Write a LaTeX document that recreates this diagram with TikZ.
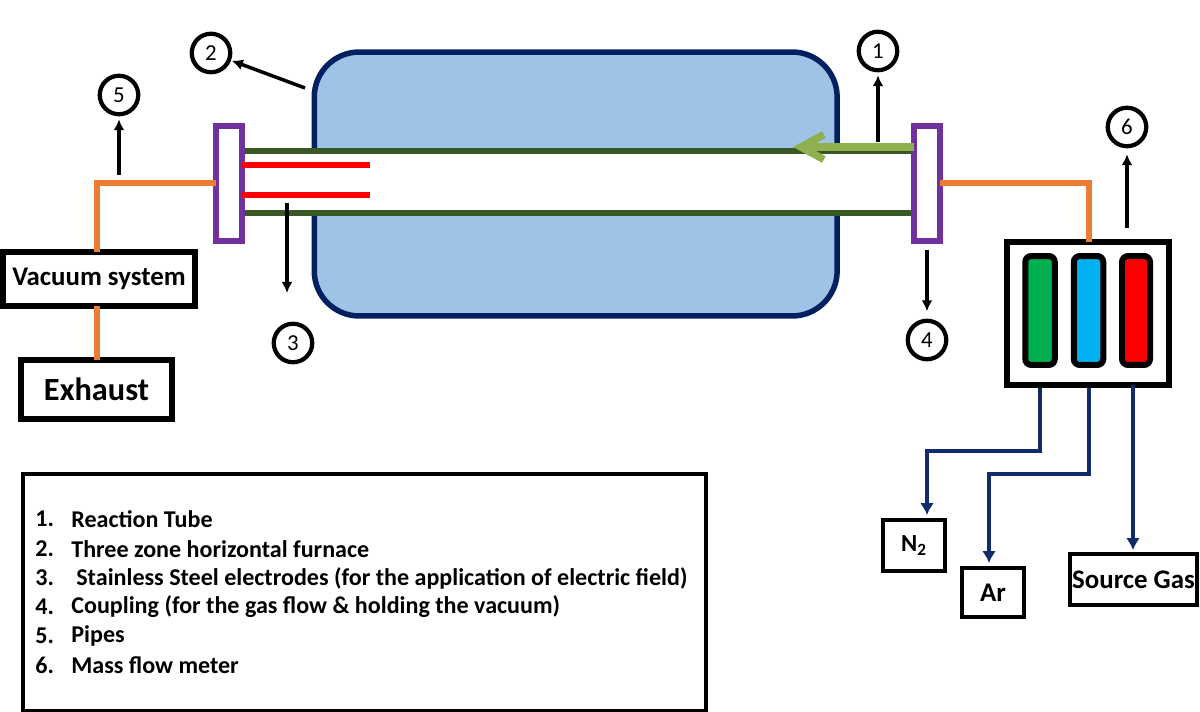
\documentclass[tikz,border=0pt]{standalone}
\usepackage{fontspec}
\setmainfont{Carlito}
\usetikzlibrary{arrows.meta}

\definecolor{furnblue}{HTML}{9DC3E6}
\definecolor{furnnavy}{HTML}{002060}
\definecolor{wallgreen}{HTML}{385723}
\definecolor{flowgreen}{HTML}{8FB04F}
\definecolor{couppurple}{HTML}{7030A0}
\definecolor{pipeorange}{HTML}{ED7D31}
\definecolor{linenavy}{HTML}{0F2B6E}

% one unit is one pixel of the picture, so .2mm is a pixel too
\tikzset{
  blackbox/.style={draw=black,line width=1.2mm,fill=white,inner sep=0pt,outer sep=0pt},
  gasbox/.style={draw=black,line width=.85mm,fill=white,inner sep=0pt,outer sep=0pt},
  coupling/.style={draw=couppurple,line width=1.2mm,fill=white,inner sep=0pt,outer sep=0pt,
    minimum width=5.2mm,minimum height=23.2mm},
  numcircle/.style={circle,draw=black,line width=.85mm,fill=white,inner sep=0pt,outer sep=0pt,
    minimum size=7.7mm,font=\fontsize{13}{15}\selectfont},
  callout/.style={-{Latex[length=2.2mm,width=2.2mm]},line width=.7mm,black},
  pipe/.style={draw=pipeorange,line width=1.1mm},
  gasline/.style={-{Latex[length=2.4mm,width=2.8mm]},draw=linenavy,line width=.9mm},
  meterbar/.style={draw=black,line width=1.2mm,rounded corners=1.2mm,inner sep=0pt,outer sep=0pt,
    minimum width=5.9mm,minimum height=21.8mm},
  legendline/.style={anchor=west,inner sep=0pt,font=\fontsize{13.7}{15}\bfseries},
}

\begin{document}
\begin{tikzpicture}[x=.02cm,y=-.02cm]
  \useasboundingbox (0,0) rectangle (1200,712);

  % furnace and tube
  \node[draw=furnnavy,fill=furnblue,line width=1.1mm,rounded corners=9mm,inner sep=0pt,outer sep=0pt,
    minimum width=104.6mm,minimum height=52.8mm] (furnace) at (575.7,184) {};
  \node[fill=white,inner sep=0pt,outer sep=0pt,minimum width=134mm,minimum height=12.4mm] (tube) at (578,182) {};
  \draw[wallgreen,line width=1.3mm] (tube.north west) -- (tube.north east);
  \draw[wallgreen,line width=1.3mm] (tube.south west) -- (tube.south east);

  \node[coupling] (leftcoup) at (229,183.5) {};
  \node[coupling] (rightcoup) at (927,183.5) {};

  % electrodes
  \coordinate (elec1) at (370,165);
  \coordinate (elec2) at (370,195);
  \draw[red,line width=1.1mm] (leftcoup.east |- elec1) -- (elec1);
  \draw[red,line width=1.1mm] (leftcoup.east |- elec2) -- (elec2);

  % gas flow in the tube
  \coordinate (flowtip) at (793,147);
  \draw[-{Straight Barb[length=4.6mm,width=5mm]},flowgreen,line width=1.5mm]
    (rightcoup.west |- flowtip) -- (flowtip);

  % boxes on the left
  \node[blackbox,minimum width=38.4mm,minimum height=10.8mm,font=\fontsize{15.3}{17}\bfseries] (vacuum) at (99,279) {Vacuum system};
  \node[blackbox,minimum width=30.2mm,minimum height=11.8mm,font=\fontsize{18.4}{20}\bfseries] (exhaust) at (96.5,389.5) {Exhaust};

  % mass flow meter
  \node[blackbox,minimum width=32.4mm,minimum height=28.6mm] (meter) at (1088,313.5) {};
  \node[meterbar,fill={rgb,255:red,0;green,176;blue,80}] (bargreen) at (1040,310.5) {};
  \node[meterbar,fill={rgb,255:red,0;green,176;blue,240}] (barblue) at (1088.5,310.5) {};
  \node[meterbar,fill=red,minimum width=5.6mm] (barred) at (1136,310.5) {};

  % pipes
  \coordinate (pipeleft) at (97,183);
  \coordinate (piperight) at (1089,183);
  \draw[pipe] (leftcoup.west |- pipeleft) -- (pipeleft) -- (vacuum.north -| pipeleft);
  \draw[pipe] (vacuum.south -| pipeleft) -- (exhaust.north -| pipeleft);
  \draw[pipe] (rightcoup.east |- piperight) -- (piperight) -- (meter.north -| piperight);

  % gas bottles
  \node[gasbox,minimum width=12.4mm,minimum height=10.2mm,font=\fontsize{14}{16}\bfseries] (nitrogen) at (914,545.5) {N\textsubscript{2}};
  \node[gasbox,minimum width=12.4mm,minimum height=9.8mm,font=\fontsize{15.3}{17}\bfseries] (argon) at (993,592.5) {Ar};
  \node[gasbox,minimum width=25.4mm,minimum height=10.2mm,font=\fontsize{15.3}{17}\bfseries] (source) at (1133.5,579.5) {\raisebox{-.7mm}{Source Gas}};

  \coordinate (tapN) at (1040,388);
  \coordinate (tapAr) at (1089,388);
  \coordinate (tipN) at (927,515);
  \coordinate (tipAr) at (989,563);
  \coordinate (tipS) at (1133,550);
  \draw[gasline] (tapN) |- (tipN |- 0,451) -- (tipN);
  \draw[gasline] (tapAr) |- (tipAr |- 0,474) -- (tipAr);
  \draw[gasline] (tipS |- meter.south) -- (tipS);

  % numbered circles
  \node[numcircle] (num1) at (878,51) {1};
  \node[numcircle] (num2) at (211,53) {2};
  \node[numcircle] (num3) at (293,343) {3};
  \node[numcircle] (num4) at (927,340) {4};
  \node[numcircle] (num5) at (119,95) {5};
  \node[numcircle] (num6) at (1127,127) {6};

  \coordinate (from1) at (878,142);
  \coordinate (from2) at (305,88);
  \coordinate (from3) at (287,203);
  \coordinate (to3) at (287,293);
  \coordinate (from4) at (927,250);
  \coordinate (from5) at (119,175);
  \coordinate (from6) at (1127,228);
  \draw[callout,shorten >=1mm] (from1) -- (num1);
  \draw[callout,shorten >=.6mm] (from2) -- (num2);
  \draw[callout] (from3) -- (to3);
  \draw[callout,shorten >=1.9mm] (from4) -- (num4);
  \draw[callout,shorten >=1mm] (from5) -- (num5);
  \draw[callout,shorten >=1.6mm] (from6) -- (num6);

  % legend
  \node[draw=black,line width=.8mm,inner sep=0pt,outer sep=0pt,minimum width=136.6mm,minimum height=47.4mm] (legend) at (364.5,592.5) {};
  \foreach \n/\y/\xt/\t in {1/519/71/Reaction Tube,
      2/549/71/Three zone horizontal furnace,
      3/578/76/Stainless Steel electrodes (for the application of electric field),
      4/607/71/Coupling (for the gas flow \& holding the vacuum),
      5/636/71/Pipes,
      6/665/71/Mass flow meter} {
    \node[legendline] (leg\n) at (35,\y) {\n.};
    \node[legendline] (text\n) at (\xt,\y) {\t};
  }
\end{tikzpicture}
\end{document}
